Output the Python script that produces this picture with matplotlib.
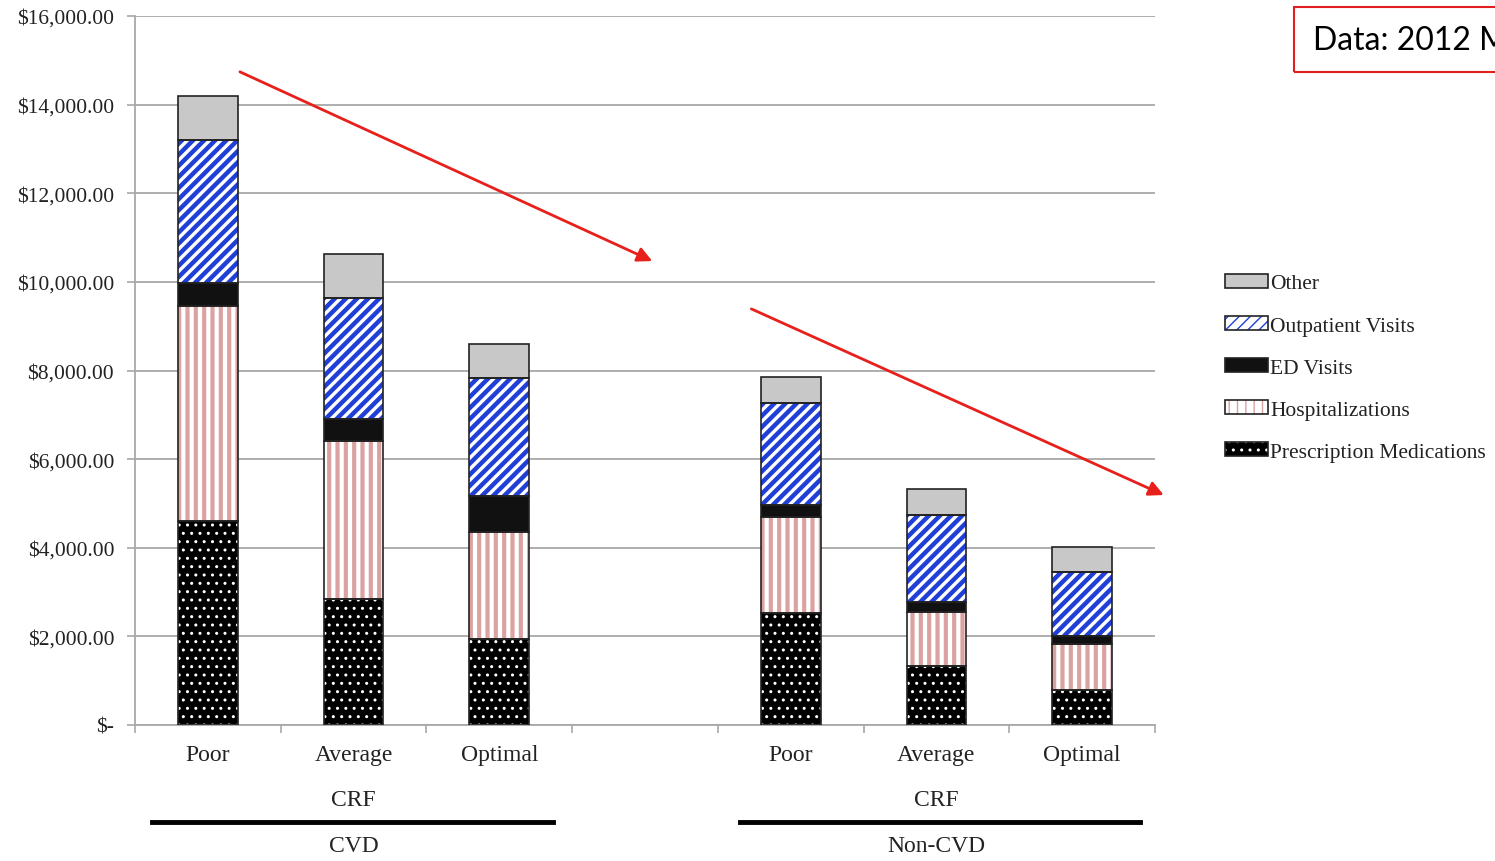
import matplotlib
matplotlib.use('Agg')
import matplotlib.pyplot as plt
from matplotlib.patches import Patch, Rectangle
from matplotlib.legend_handler import HandlerTuple
from matplotlib.ticker import FuncFormatter

plt.rcParams['font.family'] = ['Liberation Serif', 'DejaVu Serif']

# data (stacked bar segments, dollars)
levels = ['Poor', 'Average', 'Optimal', 'Poor', 'Average', 'Optimal']
groups = ['CVD', 'Non-CVD']
positions = [0, 1, 2, 4, 5, 6]

prescription = [4600, 2845, 1940, 2530, 1330, 790]
hospital = [4860, 3565, 2415, 2165, 1220, 1040]
ed_visits = [520, 495, 810, 270, 225, 180]
outpatient = [3225, 2730, 2665, 2305, 1965, 1445]
other = [995, 995, 770, 585, 590, 565]

series_names = ['Prescription Medications', 'Hospitalizations', 'ED Visits',
                'Outpatient Visits', 'Other']
series = [prescription, hospital, ed_visits, outpatient, other]
# face, hatch, hatch colour, hatch width
styles = [('black', '..', 'white', 1.0),
          ('white', '||', '#dba2a2', 3.0),
          ('#111111', '', '#111111', 1.0),
          ('white', '///', '#1f3fd6', 3.2),
          ('#c8c8c8', '', '#c8c8c8', 1.0)]

fig = plt.figure(figsize=(14.95, 8.62), dpi=100)
ax = fig.add_axes([135 / 1495, 1 - 726 / 862, 1020 / 1495, 709 / 862])

w = 0.41
bottom = [0] * 6
handles = []
for name, vals, (fc, hatch, hc, hlw) in zip(series_names, series, styles):
    with plt.rc_context({'hatch.linewidth': hlw}):
        ax.bar(positions, vals, w, bottom=bottom, color=fc, hatch=hatch,
               edgecolor=hc, linewidth=0, zorder=2)
        hp = Patch(facecolor=fc, hatch=hatch, edgecolor=hc, linewidth=0)
    ax.bar(positions, vals, w, bottom=bottom, fill=False,
           edgecolor='#222222', linewidth=1.2, zorder=3)
    handles.append((hp, Patch(fill=False, edgecolor='#222222', linewidth=1.2)))
    bottom = [b + v for b, v in zip(bottom, vals)]

ax.set_xlim(-0.5, 6.5)
ax.set_ylim(0, 16000)
ax.set_yticks(range(0, 16001, 2000))
ax.yaxis.set_major_formatter(FuncFormatter(
    lambda v, p: '$-' if v == 0 else '${:,.2f}'.format(v)))
ax.grid(axis='y', color='#a8a8a8', linewidth=1.3, zorder=0)
ax.set_axisbelow(True)

ax.set_xticks([i - 0.5 for i in range(8)])
ax.set_xticklabels([])
ax.set_xticks(positions, minor=True)
ax.set_xticklabels(levels, minor=True, fontsize=17, color='#222222')
ax.tick_params(axis='x', which='major', length=6, color='#a8a8a8', width=1.2)
ax.tick_params(axis='x', which='minor', length=0, pad=14)
ax.tick_params(axis='y', length=6, color='#a8a8a8', width=1.2,
               labelsize=15.5, labelcolor='#222222', pad=9)
for s in ['top', 'right']:
    ax.spines[s].set_visible(False)
for s in ['left', 'bottom']:
    ax.spines[s].set_color('#a8a8a8')
    ax.spines[s].set_linewidth(1.3)

# group labels under the axis
trans = ax.get_xaxis_transform()
for g, center, x0, x1 in [(groups[0], 1, -0.38, 2.37), (groups[1], 5, 3.65, 6.4)]:
    ax.text(center, -0.105, 'CRF', transform=trans, ha='center', va='center',
            fontsize=17, color='#222222')
    ax.plot([x0, x1], [-0.137, -0.137], transform=trans, color='black',
            linewidth=3.5, clip_on=False)
    ax.text(center, -0.17, g, transform=trans, ha='center', va='center',
            fontsize=17, color='#222222')

# red trend arrows
arrow = dict(arrowstyle='-|>', color='#e8201c', lw=2, mutation_scale=22,
             shrinkA=0, shrinkB=0)
ax.annotate('', xy=(3.05, 10470), xytext=(0.22, 14740), arrowprops=arrow,
            annotation_clip=False)
ax.annotate('', xy=(6.56, 5190), xytext=(3.73, 9390), arrowprops=arrow,
            annotation_clip=False)

leg = fig.legend(handles[::-1], series_names[::-1], loc='upper left',
                 bbox_to_anchor=(1210 / 1495, 1 - 260 / 862), frameon=False,
                 fontsize=15.5, handlelength=2.0, handleheight=0.6,
                 handletextpad=0.1, labelspacing=1.05, borderaxespad=0.3,
                 handler_map={tuple: HandlerTuple(ndivide=1)})
for t in leg.get_texts():
    t.set_color('#222222')

# source box at top right (cut off by the page edge)
fig.patches.append(Rectangle((1294 / 1495, 1 - 73 / 862), 0.2, 65 / 862,
                             transform=fig.transFigure, fill=False,
                             edgecolor='#e02020', linewidth=1.5))
fig.text(1313 / 1495, 1 - 41 / 862, 'Data: 2012 MEPS', fontsize=23,
         family=['Lato', 'DejaVu Sans'], va='center', ha='left')

fig.savefig('out.png', dpi=100)
